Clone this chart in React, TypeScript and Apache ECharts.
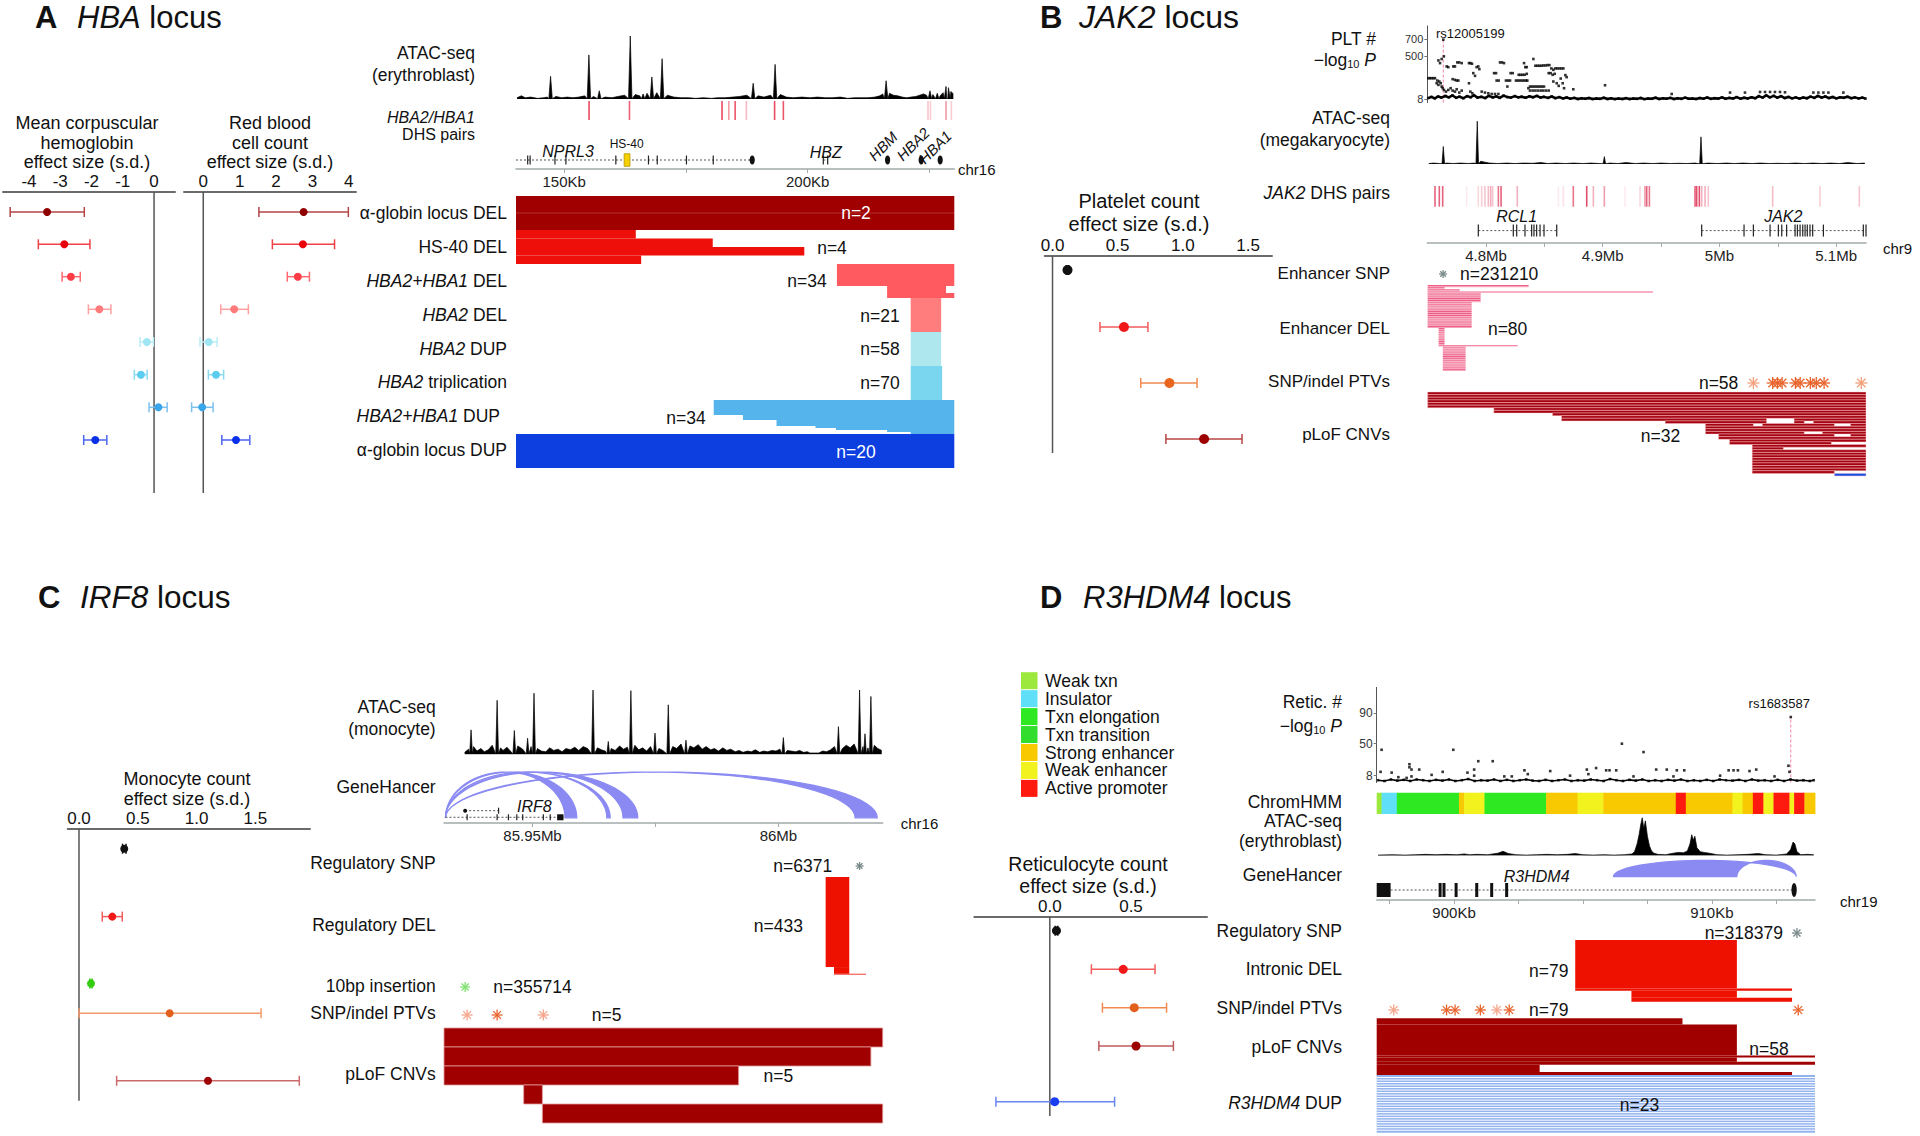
import React, { useEffect, useRef } from "react";
import * as echarts from "echarts";

const FONT = '"Liberation Sans", Arial, Helvetica, sans-serif';

/* ================= Panel A : HBA locus ================= */
const hbaRowLabels = ["α-globin locus DEL", "HS-40 DEL", "{i|HBA2+HBA1} DEL", "{i|HBA2} DEL", "{i|HBA2} DUP", "{i|HBA2} triplication", "{i|HBA2+HBA1} DUP", "α-globin locus DUP"];
const hbaMchEst = [-3.42, -2.87, -2.66, -1.75, -0.23, -0.42, 0.14, -1.88];
const hbaMchLo = [-4.6, -3.7, -2.94, -2.1, -0.45, -0.63, -0.16, -2.25];
const hbaMchHi = [-2.23, -2.05, -2.36, -1.38, -0.02, -0.22, 0.42, -1.51];
const hbaRbcEst = [2.76, 2.74, 2.6, 0.85, 0.15, 0.35, -0.03, 0.9];
const hbaRbcLo = [1.53, 1.9, 2.31, 0.48, -0.09, 0.14, -0.32, 0.51];
const hbaRbcHi = [3.99, 3.61, 2.92, 1.24, 0.38, 0.56, 0.27, 1.28];
const hbaCnvN = [2, 4, 34, 21, 58, 70, 34, 20];
const hbaRange = [140.1, 230.1]; // Kb on chr16
const hbaCnvBlocks = [
  [[140.1, 230.1, 2]],
  [[140.1, 164.7, 1], [140.1, 180.5, 1], [140.1, 199.3, 1], [140.1, 165.8, 1]],
  [[206.0, 230.1, 22], [216.3, 228.4, 7], [216.3, 230.1, 5]],
  [[221.15, 227.4, 21]],
  [[221.15, 227.4, 58]],
  [[221.15, 227.6, 70]],
  [[180.7, 230.1, 15], [186.7, 230.1, 5], [193.6, 230.1, 6], [201.6, 230.1, 2], [205.8, 230.1, 2], [216.3, 230.1, 2], [221.15, 230.1, 2]],
  [[140.1, 230.1, 20]],
];
const hbaAtacPeaks = [[147.2, 36], [155.07, 70], [157.2, 13], [163.56, 100], [166.2, 8], [168.0, 35], [170.1, 64], [188.8, 25], [193.3, 55], [216.1, 29], [225.1, 13], [226.6, 9], [228.4, 20], [228.9, 18]];
const hbaAtacNoise = [[140.3, 2], [141.2, 5], [142, 2], [143.1, 3], [144.5, 1], [145.8, 2], [146.5, 3], [148.3, 4], [149.5, 2], [150.6, 3], [151.8, 2], [153, 3], [154.2, 5], [156, 4], [158.4, 3], [159.8, 2], [161, 4], [162.4, 6], [164.6, 7], [165.5, 5], [167, 9], [169, 10], [171.2, 6], [172.5, 3], [174, 2], [175.5, 2], [177, 1], [178.6, 2], [180.2, 1], [181.5, 2], [183, 2], [184.6, 3], [186, 4], [187.5, 6], [189.8, 5], [191, 3], [192.4, 6], [194.4, 7], [195.6, 3], [197, 2], [198.8, 3], [200.5, 2], [202, 3], [203.6, 2], [205, 2], [206.7, 3], [208.2, 1], [209.6, 2], [211, 2], [212.4, 2], [213.8, 3], [214.8, 5], [215.4, 8], [216.8, 9], [217.6, 6], [218.5, 5], [219.4, 3], [220.3, 2], [221.2, 3], [222.2, 4], [223, 6], [223.8, 8], [224.4, 6], [225.7, 7], [227.2, 5], [227.8, 10], [229.4, 12], [229.9, 8]];
const hbaDhs = [[155.1, 0.9], [163.4, 0.8], [182.4, 0.9], [183.8, 0.5], [185.1, 0.85], [187.4, 0.35], [193.2, 0.9], [195.0, 0.85], [224.7, 0.3], [225.2, 0.25], [228.4, 0.5], [229.5, 0.25]];
// [start, end, kind] kind: 0 intron line, 1 exon tick, 2 oval, 3 HS-40 element
const hbaGenes = [[140.1, 188.6, 0], [142.5, 142.5, 1], [143.0, 143.0, 1], [148.1, 148.1, 1], [150.35, 150.35, 1], [160.6, 160.6, 1], [167.3, 167.3, 1], [169.1, 169.1, 1], [175.1, 175.1, 1], [180.6, 180.6, 1], [188.6, 188.6, 2], [162.3, 163.5, 3], [203.2, 204.1, 0], [203.2, 203.2, 1], [204.1, 204.1, 1], [216.4, 216.4, 2], [223.3, 223.3, 2], [227.2, 227.2, 2]];

/* ================= Panel B : JAK2 locus ================= */
const jak2Range = [4.7497, 5.1256]; // Mb on chr9
const pltRowLabels = ["Enhancer SNP", "Enhancer DEL", "SNP/indel PTVs", "pLoF CNVs"];
const pltEst = [0.115, 0.548, 0.897, 1.163];
const pltLo = [0.105, 0.364, 0.677, 0.87];
const pltHi = [0.125, 0.732, 1.109, 1.454];
const pltLead = [4.7634, 692];
const pltPoints = [[4.7639, 500], [4.762, 470], [4.7592, 454], [4.7606, 423], [4.7506, 250], [4.752, 250], [4.7534, 250], [4.7549, 250], [4.7563, 250], [4.7583, 223], [4.76, 212], [4.7612, 192], [4.7592, 173], [4.7577, 192], [4.762, 154], [4.7629, 135], [4.764, 115], [4.7657, 96], [4.7677, 115], [4.7697, 135], [4.7714, 108], [4.7734, 96], [4.7749, 123], [4.7771, 85], [4.7792, 108], [4.7663, 385], [4.7677, 377], [4.772, 385], [4.7734, 385], [4.7714, 239], [4.7734, 231], [4.7749, 223], [4.7763, 223], [4.7754, 431], [4.7771, 431], [4.7792, 423], [4.7854, 423], [4.7866, 423], [4.788, 416], [4.7891, 308], [4.7906, 277], [4.792, 377], [4.7934, 385], [4.7943, 354], [4.7854, 192], [4.7866, 96], [4.7883, 77], [4.7963, 96], [4.7991, 85], [4.802, 77], [4.8049, 69], [4.8077, 69], [4.8106, 69], [4.8069, 308], [4.8086, 308], [4.8091, 223], [4.8109, 223], [4.812, 431], [4.8137, 431], [4.8154, 423], [4.8171, 223], [4.8189, 223], [4.8206, 223], [4.8183, 154], [4.8211, 308], [4.8229, 308], [4.8257, 223], [4.8274, 223], [4.8291, 223], [4.8309, 223], [4.8326, 223], [4.8343, 223], [4.8354, 223], [4.828, 289], [4.8297, 289], [4.8314, 289], [4.8331, 289], [4.8349, 300], [4.8326, 423], [4.8337, 377], [4.8349, 377], [4.8363, 135], [4.8377, 154], [4.8394, 154], [4.8411, 154], [4.8429, 154], [4.8446, 154], [4.8463, 154], [4.848, 154], [4.8497, 154], [4.8406, 470], [4.8423, 393], [4.844, 393], [4.8457, 393], [4.8474, 393], [4.8491, 396], [4.8509, 396], [4.8526, 400], [4.8543, 400], [4.8537, 308], [4.8554, 308], [4.8571, 289], [4.8589, 300], [4.856, 362], [4.8577, 346], [4.8594, 362], [4.8611, 362], [4.8629, 362], [4.8646, 362], [4.8663, 362], [4.8377, 108], [4.84, 108], [4.8423, 108], [4.8446, 108], [4.8469, 108], [4.8491, 108], [4.8514, 108], [4.8537, 108], [4.8577, 212], [4.8606, 192], [4.8623, 162], [4.864, 246], [4.8657, 192], [4.8669, 135], [4.868, 285], [4.8691, 262], [4.8748, 123], [4.902, 169], [4.9591, 69], [5.0091, 85], [5.0219, 85], [5.0348, 92], [5.0391, 92], [5.0434, 92], [5.0476, 92], [5.0519, 92], [5.0562, 88], [5.0805, 85], [5.0848, 85], [5.0891, 85], [5.0934, 85], [5.1062, 85]];
const pltBaseline = [[4.7505, 22], [4.7532, 35], [4.7561, 18], [4.7589, 40], [4.7618, 28], [4.7652, 46], [4.7681, 30], [4.7713, 52], [4.7744, 25], [4.7772, 38], [4.7806, 20], [4.7838, 44], [4.7869, 31], [4.7897, 55], [4.7928, 27], [4.7961, 36], [4.7993, 22], [4.8024, 48], [4.8057, 29], [4.8088, 41], [4.8117, 24], [4.8151, 50], [4.8183, 33], [4.8212, 27], [4.8247, 45], [4.8276, 30], [4.8305, 38], [4.8339, 26], [4.8371, 42], [4.8402, 31], [4.8436, 47], [4.8468, 28], [4.8497, 36], [4.8531, 24], [4.8563, 40], [4.8594, 21], [4.8628, 33], [4.8659, 18], [4.8691, 29], [4.8722, 15], [4.8756, 24], [4.8787, 12], [4.8819, 20], [4.8851, 14], [4.8882, 22], [4.8914, 11], [4.8946, 18], [4.8977, 13], [4.9009, 25], [4.9041, 12], [4.9072, 19], [4.9103, 10], [4.9136, 16], [4.9168, 12], [4.9199, 21], [4.9231, 11], [4.9263, 17], [4.9294, 13], [4.9326, 23], [4.9357, 10], [4.9389, 18], [4.9421, 14], [4.9452, 26], [4.9484, 12], [4.9516, 19], [4.9547, 15], [4.9579, 24], [4.9611, 11], [4.9642, 20], [4.9674, 13], [4.9706, 27], [4.9737, 14], [4.9769, 18], [4.98, 12], [4.9832, 22], [4.9864, 15], [4.9895, 28], [4.9927, 13], [4.9958, 21], [4.999, 16], [5.0022, 30], [5.0053, 14], [5.0085, 24], [5.0117, 17], [5.0148, 33], [5.018, 15], [5.0212, 26], [5.0243, 18], [5.0275, 31], [5.0307, 20], [5.0338, 45], [5.037, 28], [5.0401, 52], [5.0433, 30], [5.0465, 48], [5.0496, 26], [5.0528, 44], [5.056, 22], [5.0591, 35], [5.0623, 18], [5.0654, 30], [5.0686, 16], [5.0718, 28], [5.0749, 20], [5.0781, 38], [5.0813, 24], [5.0844, 46], [5.0876, 27], [5.0907, 40], [5.0939, 22], [5.0971, 34], [5.1002, 19], [5.1034, 31], [5.1066, 25], [5.1097, 37], [5.1129, 21], [5.1161, 30], [5.1192, 18], [5.1224, 27], [5.1252, 16]];
const jak2AtacPeaks = [[4.7634, 38], [4.7925, 93], [4.9014, 16], [4.9842, 59]];
const jak2AtacNoise = [[4.751, 1], [4.755, 2], [4.76, 1], [4.766, 2], [4.772, 1], [4.778, 2], [4.785, 1], [4.79, 2], [4.7955, 6], [4.799, 4], [4.803, 2], [4.81, 1], [4.818, 2], [4.825, 1], [4.832, 2], [4.84, 1.5], [4.847, 3], [4.853, 1], [4.86, 2], [4.868, 1], [4.875, 2], [4.883, 1], [4.89, 2], [4.897, 1], [4.906, 2], [4.913, 1], [4.92, 3], [4.928, 1], [4.935, 2], [4.943, 1], [4.95, 2], [4.958, 1], [4.965, 1.5], [4.972, 1], [4.979, 2], [4.99, 2], [4.998, 1], [5.006, 2], [5.013, 1], [5.02, 2], [5.028, 1], [5.035, 2], [5.043, 1], [5.05, 1.5], [5.058, 1], [5.065, 2], [5.073, 1], [5.08, 2], [5.088, 1], [5.095, 2], [5.103, 1], [5.11, 3], [5.118, 1], [5.1245, 2]];
const jak2Dhs = [[4.7563, 0.8], [4.76, 0.8], [4.7629, 0.8], [4.7834, 0.1], [4.7934, 0.2], [4.7963, 0.25], [4.7991, 0.3], [4.802, 0.35], [4.804, 0.4], [4.8057, 0.3], [4.8106, 0.7], [4.8129, 0.8], [4.8268, 0.4], [4.862, 0.1], [4.8663, 0.15], [4.8748, 0.7], [4.8863, 0.9], [4.892, 0.4], [4.9014, 0.5], [4.9191, 0.1], [4.932, 0.2], [4.9362, 0.5], [4.9377, 0.8], [4.94, 0.7], [4.9791, 0.8], [4.9805, 0.9], [4.9828, 0.9], [4.9848, 0.4], [4.9877, 0.4], [4.9905, 0.3], [5.0456, 0.35], [5.0862, 0.25], [5.1199, 0.3]];
const jak2Genes = [[4.7934, 4.8606, 0], [4.7934, 4.7934, 1], [4.8234, 4.8234, 1], [4.8263, 4.8263, 1], [4.8334, 4.8334, 1], [4.8391, 4.8391, 1], [4.8411, 4.8411, 1], [4.8434, 4.8434, 1], [4.8463, 4.8463, 1], [4.8497, 4.8497, 1], [4.8606, 4.8606, 1], [4.9848, 5.1256, 0], [4.9848, 4.9848, 1], [5.0211, 5.0211, 1], [5.0291, 5.0291, 1], [5.0434, 5.0434, 1], [5.0505, 5.0505, 1], [5.0534, 5.0534, 1], [5.0576, 5.0576, 1], [5.0648, 5.0648, 1], [5.0668, 5.0668, 1], [5.0691, 5.0691, 1], [5.0714, 5.0714, 1], [5.0734, 5.0734, 1], [5.0753, 5.0753, 1], [5.0776, 5.0776, 1], [5.0799, 5.0799, 1], [5.0891, 5.0891, 1], [5.1233, 5.1233, 1], [5.1256, 5.1256, 1]];
const jak2SnpStar = [[4.7632, 0]];
const jak2EnhDelBlocks = [[4.75, 4.8365, 2], [4.75, 4.7645, 2], [4.75, 4.7774, 2], [4.75, 4.9431, 1], [4.75, 4.7954, 9], [4.75, 4.7877, 24], [4.7594, 4.7645, 16], [4.7594, 4.8272, 1], [4.763, 4.7825, 23]];
const jak2PtvStars = [[5.0291, 0], [5.0456, 1], [5.0497, 1], [5.0537, 1], [5.0651, 1], [5.0692, 1], [5.0779, 1], [5.083, 1], [5.0897, 1], [5.1216, 0]];
const jak2PlofRows = [
  [[[4.75, 5.1256]], 6], [[[4.8067, 5.1256]], 2], [[[4.857, 5.1256]], 1], [[[4.8647, 5.1256]], 1],
  [[[4.8647, 5.0404], [5.064, 5.1256]], 1], [[[4.9536, 5.0404], [5.064, 5.0727], [5.0805, 5.1256]], 1],
  [[[4.988, 5.0291], [5.0368, 5.0985], [5.1123, 5.1256]], 1], [[[4.988, 5.1256]], 2],
  [[[4.988, 5.0727], [5.0882, 5.1256]], 1], [[[4.9993, 5.0985], [5.1123, 5.1256]], 1], [[[4.9993, 5.1256]], 1],
  [[[5.0086, 5.1256]], 1], [[[5.0086, 5.0959]], 1], [[[5.0281, 5.1256]], 1], [[[5.0281, 5.0548]], 1],
  [[[5.0281, 5.1256]], 8], [[[5.0281, 5.0985]], 1],
];
const jak2DupRow = [[5.0985, 5.1256]];

/* ================= Panel C : IRF8 locus ================= */
const irf8Range = [85.932, 86.0212]; // Mb on chr16
const monoRowLabels = ["Regulatory SNP", "Regulatory DEL", "10bp insertion", "SNP/indel PTVs", "pLoF CNVs"];
const monoEst = [0.385, 0.283, 0.102, 0.771, 1.097];
const monoLo = [0.37, 0.198, 0.092, 0.0, 0.32];
const monoHi = [0.4, 0.368, 0.112, 1.548, 1.873];
const irf8AtacPeaks = [[85.9375, 38], [85.9428, 84], [85.9463, 37], [85.949, 25], [85.9503, 95], [85.9623, 100], [85.9654, 20], [85.97, 99], [85.9749, 33], [85.9776, 77], [85.9812, 22], [86.001, 26], [86.0122, 43], [86.0165, 100], [86.0176, 32], [86.0188, 90]];
const irf8AtacNoise = [[85.9362, 3], [85.937, 8], [85.938, 12], [85.9387, 5], [85.9395, 9], [85.9402, 4], [85.941, 7], [85.9418, 14], [85.9435, 10], [85.944, 6], [85.9448, 11], [85.9455, 5], [85.947, 13], [85.948, 8], [85.9497, 12], [85.951, 9], [85.9518, 5], [85.9527, 4], [85.9535, 10], [85.9543, 6], [85.9552, 8], [85.956, 4], [85.9568, 9], [85.9577, 7], [85.9586, 11], [85.9594, 6], [85.9603, 12], [85.9612, 9], [85.9632, 10], [85.964, 7], [85.9648, 5], [85.966, 9], [85.9668, 6], [85.9677, 13], [85.9685, 8], [85.9693, 11], [85.9708, 14], [85.9716, 7], [85.9724, 10], [85.9732, 5], [85.974, 12], [85.9757, 9], [85.9765, 6], [85.9785, 12], [85.9793, 9], [85.9802, 16], [85.982, 13], [85.9828, 10], [85.9837, 15], [85.9845, 8], [85.9853, 12], [85.9862, 7], [85.987, 9], [85.9878, 5], [85.9887, 10], [85.9895, 6], [85.9903, 8], [85.9912, 4], [85.992, 6], [85.9928, 3], [85.9937, 5], [85.9945, 4], [85.9953, 7], [85.9962, 3], [85.997, 5], [85.9978, 4], [85.9987, 6], [85.9995, 5], [86.0003, 8], [86.0018, 6], [86.0026, 5], [86.0035, 4], [86.0043, 6], [86.0051, 3], [86.0059, 4], [86.0064, 2], [86.0082, 2], [86.009, 5], [86.0098, 4], [86.0106, 7], [86.0114, 12], [86.013, 9], [86.0138, 14], [86.0146, 10], [86.0154, 16], [86.0172, 12], [86.0182, 10], [86.0195, 14], [86.0202, 9], [86.021, 6]];
// GeneHancer links: [promoter, enhancer inner edge, enhancer outer edge]
const irf8GeneHancer = [[85.9323, 85.9566, 85.959], [85.9323, 85.9651, 85.9658], [85.9323, 85.9684, 85.9714], [85.9323, 86.0156, 86.0201]];
const irf8TranscriptShort = [[85.9363, 85.9431, 0], [85.9363, 85.9363, 5], [85.9431, 85.9431, 1]];
const irf8TranscriptLong = [[85.9323, 85.9563, 0], [85.9367, 85.9367, 1], [85.9428, 85.9428, 1], [85.9451, 85.9451, 1], [85.9468, 85.9468, 1], [85.948, 85.948, 1], [85.9522, 85.9522, 1], [85.9536, 85.9536, 1], [85.955, 85.9563, 4]];
const irf8SnpStar = [[86.0165, 0]];
const irf8DelBlocks = [[86.0096, 86.0144, 402], [86.0113, 86.0144, 30], [86.0113, 86.0178, 1]];
const irf8InsStar = [[85.9363, 0]];
const irf8PtvStars = [[85.9367, 0], [85.9428, 1], [85.9522, 0]];
const irf8PlofBlocks = [[85.932, 86.0212, 1], [85.932, 86.0188, 1], [85.932, 85.9919, 1], [85.9482, 85.952, 1], [85.952, 86.0212, 1]];

/* ================= Panel D : R3HDM4 locus ================= */
const r3Range = [897.0, 914.0]; // Kb on chr19
const chromStates = ["Weak txn", "Insulator", "Txn elongation", "Txn transition", "Strong enhancer", "Weak enhancer", "Active promoter"];
const chromColors = ["#9de83c", "#5fe0f8", "#2ee822", "#33dd2e", "#f8c800", "#f2f21e", "#ff1a10"];
const chromSegments = [[897.0, 897.19, 0], [897.19, 897.78, 1], [897.78, 900.19, 2], [900.19, 900.39, 4], [900.39, 901.18, 5], [901.18, 903.57, 2], [903.57, 904.79, 4], [904.79, 905.79, 5], [905.79, 908.6, 4], [908.6, 908.99, 6], [908.99, 910.8, 4], [910.8, 911.19, 5], [911.19, 911.59, 4], [911.59, 912.0, 6], [912.0, 912.39, 5], [912.39, 913.01, 6], [913.01, 913.19, 5], [913.19, 913.59, 6], [913.59, 914.0, 4]];
const reticRowLabels = ["Regulatory SNP", "Intronic DEL", "SNP/indel PTVs", "pLoF CNVs", "{i|R3HDM4} DUP"];
const reticEst = [0.041, 0.452, 0.52, 0.531, 0.03];
const reticLo = [0.033, 0.256, 0.324, 0.302, -0.332];
const reticHi = [0.049, 0.648, 0.719, 0.761, 0.399];
const reticLead = [913.06, 85];
const reticPoints = [[897.19, 42], [897.15, 13], [897.58, 12], [897.84, 6], [898.16, 5], [898.27, 23], [898.35, 16], [898.27, 19], [898.35, 7], [898.65, 16], [899.13, 9], [899.56, 13], [899.97, 42], [900.52, 12], [900.78, 16], [900.78, 8], [900.94, 27], [901.5, 27], [901.95, 7], [902.24, 7], [902.73, 15], [902.86, 10], [903.73, 14], [904.5, 8], [905.15, 16], [905.21, 10], [905.51, 18], [905.9, 15], [906.03, 15], [906.29, 15], [906.51, 50], [906.96, 7], [907.35, 39], [907.84, 16], [908.25, 16], [908.51, 7], [908.64, 15], [908.93, 15], [910.32, 8], [910.65, 15], [910.84, 15], [911.01, 15], [911.46, 14], [911.72, 16], [912.43, 7], [912.97, 21], [913.01, 13]];
const reticBaseline = [[897.05, 2], [897.3, 1], [897.55, 3], [897.8, 1.5], [898.05, 2.5], [898.3, 1], [898.55, 3], [898.8, 2], [899.05, 1], [899.3, 2.5], [899.55, 1.5], [899.8, 3], [900.05, 1], [900.3, 2], [900.55, 3.5], [900.8, 1], [901.05, 2], [901.3, 1.5], [901.55, 3], [901.8, 1], [902.05, 2.5], [902.3, 1], [902.55, 2], [902.8, 3], [903.05, 1.5], [903.3, 1], [903.55, 2.5], [903.8, 1], [904.05, 2], [904.3, 3], [904.55, 1], [904.8, 2], [905.05, 1.5], [905.3, 3], [905.55, 2], [905.8, 1], [906.05, 3.5], [906.3, 2], [906.55, 1], [906.8, 2.5], [907.05, 1.5], [907.3, 3], [907.55, 1], [907.8, 2], [908.05, 1], [908.3, 2.5], [908.55, 1.5], [908.8, 3], [909.05, 1], [909.3, 2], [909.55, 1], [909.8, 2.5], [910.05, 1], [910.3, 3], [910.55, 2], [910.8, 1.5], [911.05, 2.5], [911.3, 1], [911.55, 3], [911.8, 1.5], [912.05, 2], [912.3, 1], [912.55, 2.5], [912.8, 1], [913.05, 3], [913.3, 1.5], [913.55, 2], [913.8, 1], [913.95, 2]];
const r3Atac = [[897.05, 1], [897.6, 2], [898.1, 1], [898.5, 2], [898.9, 3], [899.3, 2], [899.7, 3], [900.1, 2], [900.4, 4], [900.6, 2], [900.9, 3], [901.3, 2], [901.7, 6], [901.9, 11], [902.1, 5], [902.4, 2], [902.8, 1], [903.2, 2], [903.6, 3], [904.0, 2], [904.4, 3], [904.7, 5], [905.0, 2], [905.4, 1], [905.8, 2], [906.2, 1], [906.6, 2], [906.9, 4], [907.0, 10], [907.1, 30], [907.18, 55], [907.24, 80], [907.3, 98], [907.36, 70], [907.42, 90], [907.5, 50], [907.58, 25], [907.66, 12], [907.75, 6], [907.9, 3], [908.2, 2], [908.5, 6], [908.7, 8], [908.9, 7], [909.05, 12], [909.15, 30], [909.22, 54], [909.28, 40], [909.34, 50], [909.42, 20], [909.55, 10], [909.7, 8], [909.9, 6], [910.2, 2], [910.6, 1], [911.0, 2], [911.4, 3], [911.8, 5], [912.1, 2], [912.5, 1], [912.9, 4], [913.05, 15], [913.15, 35], [913.22, 30], [913.3, 10], [913.45, 2], [913.7, 3], [913.95, 2]];
const r3GeneHancer = [[913.27, 910.97, 906.18]];
const r3Gene = [[897.54, 913.19, 0], [897.0, 897.54, 4], [899.46, 899.46, 4], [899.61, 899.61, 4], [900.08, 900.08, 4], [900.88, 900.88, 4], [901.46, 901.46, 4], [902.04, 902.04, 4], [913.19, 913.19, 2]];
const r3SnpStar = [[913.3, 0]];
const r3DelBlocks = [[904.7, 910.97, 62], [904.7, 913.11, 3], [906.88, 910.97, 9], [906.88, 913.11, 5]];
const r3PtvStars = [[897.66, 0], [899.71, 1], [900.04, 1], [901.02, 1], [901.66, 0], [902.14, 1], [913.35, 1]];
const r3PlofBlocks = [[897.0, 908.86, 6], [897.0, 910.97, 30], [897.0, 914.0, 2], [897.0, 910.97, 4], [897.0, 914.0, 3], [897.0, 903.32, 7], [897.0, 913.11, 3], [900.23, 903.32, 3]];
const r3DupBlocks = [[897.0, 914.0, 23]];

/* ================= layout (pixels) ================= */
const A_ROW_Y = [20, 52.3, 84.7, 117.3, 150, 182.7, 215.3, 248];
const B_ROW_Y = [14, 71, 127, 183];
const C_ROW_Y = [19.9, 87.8, 154.6, 184.5, 252];
const D_ROW_Y = [14, 52.6, 91, 129.3, 185];

function buildOption() {
  const grid: any[] = [], xAxis: any[] = [], yAxis: any[] = [], series: any[] = [], elements: any[] = [];

  const addGrid = (box: number[], x: any, y: any) => {
    const i = grid.length;
    grid.push({ left: box[0], top: box[1], width: box[2], height: box[3], show: false, containLabel: false });
    xAxis.push({ gridIndex: i, type: "value", show: false, splitLine: { show: false }, ...x, axisLine: { onZero: false, ...(x.axisLine || {}) } });
    yAxis.push({ gridIndex: i, type: "value", show: false, splitLine: { show: false }, ...y, axisLine: { onZero: false, ...(y.axisLine || {}) } });
    return i;
  };
  const on = (gi: number) => ({ xAxisIndex: gi, yAxisIndex: gi, silent: true });

  const forestAxis = (min: number, max: number, labels: number[], fmt: (v: number) => string) => ({
    show: true, min, max, position: "top",
    axisLine: { show: true, onZero: false, lineStyle: { color: "#6b6b6b", width: 2 } },
    axisTick: { show: false },
    axisLabel: { show: true, customValues: labels, formatter: fmt, fontSize: 17, color: "#111", fontFamily: FONT, margin: 2 },
  });
  const genomeAxis = (range: number[], labels: number[], ticks: number[], fmt: (v: number) => string) => ({
    show: true, min: range[0], max: range[1], position: "bottom",
    axisLine: { show: true, onZero: false, lineStyle: { color: "#a3abab", width: 1.5 } },
    axisTick: { show: true, customValues: ticks, length: 4, lineStyle: { color: "#a3abab" } },
    axisLabel: { show: true, customValues: labels, formatter: fmt, fontSize: 15, color: "#222", fontFamily: FONT, margin: 5 },
  });
  const manY = (min: number, max: number, labels: number[], fs: number) => ({
    show: true, min, max, position: "left",
    axisLine: { show: true, onZero: false, lineStyle: { color: "#555", width: 1 } },
    axisTick: { show: true, customValues: labels, length: 3, lineStyle: { color: "#777" } },
    axisLabel: { show: true, customValues: labels, fontSize: fs, color: "#333", fontFamily: FONT, margin: 4 },
  });

  const addForest = (gi: number, H: number, est: number[], lo: number[], hi: number[], rowY: number[], colors: string[], ciColors: string[], r: number) => {
    series.push({ type: "line", ...on(gi), data: [[0, 0], [0, H]], symbol: "none", lineStyle: { color: "#555", width: 1.5 }, z: 1 });
    series.push({
      type: "custom", ...on(gi), z: 3,
      data: est.map((e, i) => [e, lo[i], hi[i], rowY[i], i]),
      encode: { x: [0, 1, 2], y: 3 },
      renderItem: (_p: any, api: any) => {
        const y = api.value(3), i = api.value(4);
        const pe = api.coord([api.value(0), y]), pl = api.coord([api.value(1), y]), ph = api.coord([api.value(2), y]);
        const cap = 5, st = { stroke: ciColors[i], lineWidth: 1.5 };
        return {
          type: "group", children: [
            { type: "line", shape: { x1: pl[0], y1: pl[1], x2: ph[0], y2: ph[1] }, style: st },
            { type: "line", shape: { x1: pl[0], y1: pl[1] - cap, x2: pl[0], y2: pl[1] + cap }, style: st },
            { type: "line", shape: { x1: ph[0], y1: ph[1] - cap, x2: ph[0], y2: ph[1] + cap }, style: st },
            { type: "circle", shape: { cx: pe[0], cy: pe[1], r }, style: { fill: colors[i] } },
          ],
        };
      },
    });
  };

  // items: [start, end, y0, y1, nRows, colorIdx]
  const addCnv = (gi: number, items: any[], colors: string[], opt: any = {}) => {
    series.push({
      type: "custom", ...on(gi), data: items, encode: { x: [0, 1], y: [2, 3] },
      renderItem: (_p: any, api: any) => {
        const a = api.coord([api.value(0), api.value(2)]), b = api.coord([api.value(1), api.value(3)]);
        const n = api.value(4), c = api.value(5);
        const x = Math.min(a[0], b[0]), y = Math.min(a[1], b[1]);
        const w = Math.max(Math.abs(b[0] - a[0]), 1), h = Math.max(Math.abs(b[1] - a[1]), 0.8);
        const ch: any[] = [{ type: "rect", shape: { x, y, width: w, height: h }, style: { fill: colors[c], stroke: opt.stroke || null, lineWidth: opt.strokeW || 0 } }];
        if (opt.sep && n > 1 && h / n >= (opt.minSepH ?? 3)) {
          for (let k = 1; k < n; k++) ch.push({ type: "line", shape: { x1: x, y1: y + (k * h) / n, x2: x + w, y2: y + (k * h) / n }, style: { stroke: opt.sep, lineWidth: opt.sepW || 0.6 } });
        }
        return { type: "group", children: ch };
      },
    });
  };
  const blocksToItems = (blocks: number[][], colorIdx = 0, yBase = 0, scale = 1) => {
    let r = 0;
    return blocks.map(([s, e, n]) => { const it = [s, e, yBase + r * scale, yBase + (r + n) * scale, n, colorIdx]; r += n; return it; });
  };

  const addStars = (gi: number, items: number[][], colors: string[], rad: number) => {
    series.push({
      type: "custom", ...on(gi), data: items, encode: { x: 0, y: 1 },
      renderItem: (_p: any, api: any) => {
        const c = api.coord([api.value(0), 0.5]);
        const col = colors[api.value(1)];
        return {
          type: "group", children: [0, 45, 90, 135].map((d) => {
            const t = (d * Math.PI) / 180;
            return { type: "line", shape: { x1: c[0] - rad * Math.cos(t), y1: c[1] - rad * Math.sin(t), x2: c[0] + rad * Math.cos(t), y2: c[1] + rad * Math.sin(t) }, style: { stroke: col, lineWidth: 1.3 } };
          }),
        };
      },
    });
  };

  const addAtac = (gi: number, peaks: number[][], noise: number[][], hw: number) => {
    const pts: number[][] = noise.map((p) => [p[0], p[1]]);
    for (const [p, h] of peaks) pts.push([p - hw, 0.5], [p, h], [p + hw, 0.5]);
    pts.sort((a, b) => a[0] - b[0]);
    series.push({ type: "line", ...on(gi), data: pts, symbol: "none", lineStyle: { color: "#000", width: 0.7 }, areaStyle: { color: "#000", opacity: 1 } });
  };

  const addDhs = (gi: number, items: number[][], color: string) => {
    series.push({
      type: "custom", ...on(gi), data: items, encode: { x: 0 },
      renderItem: (_p: any, api: any) => {
        const a = api.coord([api.value(0), 0]), b = api.coord([api.value(0), 1]);
        return { type: "rect", shape: { x: a[0] - 0.8, y: b[1], width: 1.6, height: a[1] - b[1] }, style: { fill: color, opacity: api.value(1) } };
      },
    });
  };

  // items: [start, end, kind, level]
  const addGenes = (gi: number, items: number[][], hh: number) => {
    series.push({
      type: "custom", ...on(gi), data: items, encode: { x: [0, 1], y: 3 },
      renderItem: (_p: any, api: any) => {
        const k = api.value(2), lv = api.value(3);
        const a = api.coord([api.value(0), lv]), b = api.coord([api.value(1), lv]);
        if (k === 0) return { type: "line", shape: { x1: a[0], y1: a[1], x2: b[0], y2: b[1] }, style: { stroke: "#555", lineWidth: 1, lineDash: [2, 2] } };
        if (k === 1) return { type: "line", shape: { x1: a[0], y1: a[1] - hh, x2: a[0], y2: a[1] + hh }, style: { stroke: "#222", lineWidth: 1.2 } };
        if (k === 2) return { type: "ellipse", shape: { cx: (a[0] + b[0]) / 2, cy: a[1], rx: 2.6, ry: hh }, style: { fill: "#111" } };
        if (k === 3) return { type: "rect", shape: { x: a[0], y: a[1] - hh * 1.4, width: Math.max(b[0] - a[0], 4), height: hh * 2.8 }, style: { fill: "#f5d000", stroke: "#b89400", lineWidth: 0.8 } };
        if (k === 4) {
          const w0 = b[0] - a[0];
          return { type: "rect", shape: { x: w0 < 3 ? a[0] - 1.5 : a[0], y: a[1] - hh, width: Math.max(w0, 3), height: hh * 2 }, style: { fill: "#111" } };
        }
        return { type: "circle", shape: { cx: a[0], cy: a[1], r: 2 }, style: { fill: "#111" } };
      },
    });
  };

  // items: [promoter, innerEnd, outerEnd]
  const addArcs = (gi: number, items: number[][], base: number, top: number, color: string) => {
    series.push({
      type: "custom", ...on(gi), data: items, encode: { x: [0, 1, 2] },
      renderItem: (_p: any, api: any) => {
        const s = api.value(0), e1 = api.value(1), e2 = api.value(2);
        const pts: any[] = [];
        const N = 40;
        for (let k = 0; k <= N; k++) { const t = (Math.PI * k) / N; pts.push(api.coord([s + ((e2 - s) * (1 - Math.cos(t))) / 2, base + (top - base) * Math.sin(t)])); }
        for (let k = N; k >= 0; k--) { const t = (Math.PI * k) / N; pts.push(api.coord([s + ((e1 - s) * (1 - Math.cos(t))) / 2, base + (top - base) * Math.sin(t)])); }
        return { type: "polygon", shape: { points: pts }, style: { fill: color, stroke: color, lineWidth: 1.2 } };
      },
    });
  };

  const addManhattan = (gi: number, baseline: number[][], points: number[][], lead: number[], yMin: number, bandW: number) => {
    series.push({ type: "line", ...on(gi), data: [[lead[0], yMin], [lead[0], lead[1]]], symbol: "none", lineStyle: { color: "#f27fa0", width: 1, type: [3, 2] }, z: 1 });
    series.push({ type: "line", ...on(gi), data: baseline, symbol: "none", lineStyle: { color: "#000", width: bandW }, z: 2 });
    series.push({ type: "scatter", ...on(gi), data: [...baseline, ...points, lead], symbol: "rect", symbolSize: 2.6, itemStyle: { color: "#000" }, z: 3 });
  };

  /* ---------- Panel A ---------- */
  const gMch = addGrid([3, 192, 172, 301], forestAxis(-4.83, 0.67, [-4, -3, -2, -1, 0], (v) => String(v)), { min: 0, max: 301, inverse: true });
  const gRbc = addGrid([184, 192, 172, 301], forestAxis(-0.53, 4.2, [0, 1, 2, 3, 4], (v) => String(v)), { min: 0, max: 301, inverse: true });
  const aCol = ["#8e0000", "#e8000b", "#ff3b45", "#ff7a7a", "#9fe6f2", "#5ccdee", "#3aa6ea", "#0a30e8"];
  const aCi = ["#b24545", "#f04048", "#ff6a70", "#ffa0a0", "#b8eef6", "#8adaf2", "#7cc0ee", "#4a66ee"];
  addForest(gMch, 301, hbaMchEst, hbaMchLo, hbaMchHi, A_ROW_Y, aCol, aCi, 4);
  addForest(gRbc, 301, hbaRbcEst, hbaRbcLo, hbaRbcHi, A_ROW_Y, aCol, aCi, 4);

  const gAtacA = addGrid([516, 36, 438.3, 63], { min: hbaRange[0], max: hbaRange[1] }, { min: 0, max: 100 });
  addAtac(gAtacA, hbaAtacPeaks, hbaAtacNoise, 0.35);
  const gDhsA = addGrid([516, 101, 438.3, 19], { min: hbaRange[0], max: hbaRange[1] }, { min: 0, max: 1 });
  addDhs(gDhsA, hbaDhs, "#e8374f");
  const gGeneA = addGrid([516, 140, 438.3, 29], genomeAxis(hbaRange, [150, 200], [150, 175, 200, 225], (v) => `${v}Kb`), { min: 0, max: 1 });
  addGenes(gGeneA, hbaGenes.map((f) => [...f, 0.31]), 4.5);

  const gCnvA = addGrid([516, 196, 438.3, 272], { min: hbaRange[0], max: hbaRange[1] }, { min: 0, max: 8, inverse: true });
  const barA = ["#a10000", "#ee0f0a", "#ff5a60", "#ff7d7d", "#aee8ee", "#79d6ee", "#56b4ec", "#0c3ee0"];
  const aItems: any[] = [];
  hbaCnvBlocks.forEach((blocks, g) => {
    const total = blocks.reduce((s, b) => s + b[2], 0);
    aItems.push(...blocksToItems(blocks, g, g, 1 / total));
  });
  addCnv(gCnvA, aItems, barA, { sep: "rgba(255,255,255,0.3)", sepW: 0.6, minSepH: 3, stroke: null });

  /* ---------- Panel B ---------- */
  const gManB = addGrid([1427.3, 25.9, 438.7, 76.7], { min: jak2Range[0], max: jak2Range[1] }, manY(-30, 850, [8, 500, 700], 11));
  addManhattan(gManB, pltBaseline, pltPoints, pltLead, -30, 2.5);
  const gAtacB = addGrid([1427.3, 118, 438.7, 46], { min: jak2Range[0], max: jak2Range[1] }, { min: 0, max: 100 });
  addAtac(gAtacB, jak2AtacPeaks, jak2AtacNoise, 0.0011);
  const gDhsB = addGrid([1427.3, 186, 438.7, 20.7], { min: jak2Range[0], max: jak2Range[1] }, { min: 0, max: 1 });
  addDhs(gDhsB, jak2Dhs, "#e03a5c");
  const gGeneB = addGrid([1427.3, 212, 438.7, 31], genomeAxis(jak2Range, [4.8, 4.9, 5.0, 5.1], [4.8, 4.85, 4.9, 4.95, 5.0, 5.05, 5.1], (v) => `${+v.toFixed(2)}Mb`), { min: 0, max: 1 });
  addGenes(gGeneB, jak2Genes.map((f) => [...f, 0.4]), 6);

  const gForB = addGrid([1044.7, 256, 227.3, 197], forestAxis(-0.06, 1.684, [0, 0.5, 1.0, 1.5], (v) => v.toFixed(1)), { min: 0, max: 197, inverse: true });
  addForest(gForB, 197, pltEst, pltLo, pltHi, B_ROW_Y, ["#111", "#f01818", "#e8661e", "#9c0000"], ["#111", "#f25b5b", "#f08a50", "#b84444"], 5);

  const gSnpB = addGrid([1427.3, 269, 438.7, 10], { min: jak2Range[0], max: jak2Range[1] }, { min: 0, max: 1 });
  addStars(gSnpB, jak2SnpStar, ["#7a8a8a"], 4);
  const gEnhB = addGrid([1427.3, 285, 438.7, 86], { min: jak2Range[0], max: jak2Range[1] }, { min: 0, max: 80, inverse: true });
  const enhItems: any[] = [];
  {
    let r = 0;
    for (const [s, e, n] of jak2EnhDelBlocks) for (let k = 0; k < n; k++) { enhItems.push([s, e, r, r + 1, 1, r % 2]); r++; }
  }
  addCnv(gEnhB, enhItems, ["#ee6088", "#f7a4ba"]);
  const gPtvB = addGrid([1427.3, 378, 438.7, 10], { min: jak2Range[0], max: jak2Range[1] }, { min: 0, max: 1 });
  addStars(gPtvB, jak2PtvStars, ["#f4a07a", "#e8642c"], 6);
  const gPlofB = addGrid([1427.3, 392, 438.7, 84], { min: jak2Range[0], max: jak2Range[1] }, { min: 0, max: 32, inverse: true });
  const plofBItems: any[] = [];
  {
    let r = 0;
    for (const [segs, n] of jak2PlofRows as any[]) for (let k = 0; k < n; k++) { for (const [s, e] of segs) plofBItems.push([s, e, r, r + 1, 1, 0]); r++; }
    for (const [s, e] of jak2DupRow) plofBItems.push([s, e, r, r + 1, 1, 1]);
  }
  addCnv(gPlofB, plofBItems, ["#a30010", "#1f4fe0"], { stroke: "rgba(255,200,200,0.9)", strokeW: 0.5 });

  /* ---------- Panel C ---------- */
  const gForC = addGrid([67.7, 828.8, 242.3, 271.9], forestAxis(-0.096, 1.964, [0, 0.5, 1.0, 1.5], (v) => v.toFixed(1)), { min: 0, max: 271.9, inverse: true });
  addForest(gForC, 271.9, monoEst, monoLo, monoHi, C_ROW_Y, ["#111", "#f01818", "#33cc11", "#e0601c", "#9c0000"], ["#111", "#f25b5b", "#33cc11", "#f29a6a", "#cc6a6a"], 4);
  const gAtacC = addGrid([444, 690, 438.7, 64.3], { min: irf8Range[0], max: irf8Range[1] }, { min: 0, max: 100 });
  addAtac(gAtacC, irf8AtacPeaks, irf8AtacNoise, 0.00028);
  const gGhC = addGrid([444, 771, 438.7, 52], genomeAxis(irf8Range, [85.95, 86], [85.95, 85.975, 86], (v) => `${+v.toFixed(2)}Mb`), { min: 0, max: 1 });
  addArcs(gGhC, irf8GeneHancer, 0.1, 0.98, "#8a8af2");
  addGenes(gGhC, [...irf8TranscriptShort.map((f) => [...f, 0.237]), ...irf8TranscriptLong.map((f) => [...f, 0.11])], 3);
  const gSnpC = addGrid([444, 861, 438.7, 10], { min: irf8Range[0], max: irf8Range[1] }, { min: 0, max: 1 });
  addStars(gSnpC, irf8SnpStar, ["#7a8a8a"], 4);
  const gDelC = addGrid([444, 877, 438.7, 97], { min: irf8Range[0], max: irf8Range[1] }, { min: 0, max: 433, inverse: true });
  addCnv(gDelC, blocksToItems(irf8DelBlocks), ["#ee1100"]);
  const gInsC = addGrid([444, 982, 438.7, 10], { min: irf8Range[0], max: irf8Range[1] }, { min: 0, max: 1 });
  addStars(gInsC, irf8InsStar, ["#7fe070"], 5);
  const gPtvC = addGrid([444, 1010, 438.7, 10], { min: irf8Range[0], max: irf8Range[1] }, { min: 0, max: 1 });
  addStars(gPtvC, irf8PtvStars, ["#f5a58a", "#e8642c"], 5.5);
  const gPlofC = addGrid([444, 1028, 438.7, 95], { min: irf8Range[0], max: irf8Range[1] }, { min: 0, max: 5, inverse: true });
  addCnv(gPlofC, blocksToItems(irf8PlofBlocks), ["#a00000"], { stroke: "#e09a9a", strokeW: 0.8 });

  /* ---------- Panel D ---------- */
  const gManD = addGrid([1376.7, 687.4, 438.3, 95.1], { min: r3Range[0], max: r3Range[1] }, manY(-1, 124, [8, 50, 90], 12));
  addManhattan(gManD, reticBaseline, reticPoints, reticLead, -1, 1.6);
  const gChromD = addGrid([1376.7, 792.7, 438.3, 21.3], { min: r3Range[0], max: r3Range[1] }, { min: 0, max: 1 });
  series.push({
    type: "custom", ...on(gChromD), data: chromSegments, encode: { x: [0, 1] },
    renderItem: (_p: any, api: any) => {
      const a = api.coord([api.value(0), 0]), b = api.coord([api.value(1), 1]);
      return { type: "rect", shape: { x: a[0], y: b[1], width: b[0] - a[0] + 0.4, height: a[1] - b[1] }, style: { fill: chromColors[api.value(2)] } };
    },
  });
  const gAtacD = addGrid([1376.7, 817, 438.3, 38.5], { min: r3Range[0], max: r3Range[1] }, { min: 0, max: 100 });
  addAtac(gAtacD, [], r3Atac, 0);
  const gGhD = addGrid([1376.7, 860, 438.3, 40], genomeAxis(r3Range, [900, 910], [897.5, 900, 902.5, 905, 907.5, 910, 912.5], (v) => `${v}Kb`), { min: 0, max: 1 });
  addArcs(gGhD, r3GeneHancer, 0.583, 0.99, "#8a8af2");
  addGenes(gGhD, r3Gene.map((f) => [...f, 0.25]), 7);
  const gForD = addGrid([974.3, 916.7, 232.7, 199.3], forestAxis(-0.465, 0.968, [0, 0.5], (v) => v.toFixed(1)), { min: 0, max: 199.3, inverse: true });
  addForest(gForD, 199.3, reticEst, reticLo, reticHi, D_ROW_Y, ["#111", "#f01818", "#e0601c", "#9c0000", "#1a3ef0"], ["#111", "#f25b5b", "#f08a50", "#c05a5a", "#6a86f0"], 4.5);
  const gSnpD = addGrid([1376.7, 928, 438.3, 10], { min: r3Range[0], max: r3Range[1] }, { min: 0, max: 1 });
  addStars(gSnpD, r3SnpStar, ["#7a8a8a"], 5);
  const gDelD = addGrid([1376.7, 940, 438.3, 61.7], { min: r3Range[0], max: r3Range[1] }, { min: 0, max: 79, inverse: true });
  addCnv(gDelD, blocksToItems(r3DelBlocks), ["#ee1100"]);
  const gPtvD = addGrid([1376.7, 1005, 438.3, 10], { min: r3Range[0], max: r3Range[1] }, { min: 0, max: 1 });
  addStars(gPtvD, r3PtvStars, ["#f5a58a", "#e8642c"], 5.5);
  const gPlofD = addGrid([1376.7, 1018.3, 438.3, 60], { min: r3Range[0], max: r3Range[1] }, { min: 0, max: 58, inverse: true });
  addCnv(gPlofD, blocksToItems(r3PlofBlocks), ["#a00000"]);
  const gDupD = addGrid([1376.7, 1075, 438.3, 57.7], { min: r3Range[0], max: r3Range[1] }, { min: 0, max: 23, inverse: true });
  addCnv(gDupD, blocksToItems(r3DupBlocks), ["#93b3ee"], { sep: "#ffffff", sepW: 1, minSepH: 1.5 });

  /* ---------- texts ---------- */
  const txt = (x: number, y: number, text: string, o: any = {}) => {
    const fs = o.size ?? 17.5;
    const base = { fontSize: fs, fontFamily: FONT, fill: o.color ?? "#111" };
    const al = o.align ?? "left";
    return {
      type: "text", x, y, silent: true, z: 100, rotation: o.rot ?? 0,
      style: {
        text, ...base, fontWeight: o.bold ? "bold" : "normal", fontStyle: o.italic ? "italic" : "normal",
        align: al, textAlign: al, verticalAlign: "middle", textVerticalAlign: "middle",
        rich: { i: { ...base, fontStyle: "italic" }, s: { ...base, fontSize: Math.round(fs * 0.65), verticalAlign: "bottom" } },
      },
    };
  };
  const T = (arr: any[]) => arr.forEach((a) => elements.push(txt(a[0], a[1], a[2], a[3] || {})));

  // Panel titles
  T([
    [35, 17, "A", { size: 31, bold: true }], [77, 17, "{i|HBA} locus", { size: 31 }],
    [1040, 17, "B", { size: 31, bold: true }], [1079, 17, "{i|JAK2} locus", { size: 32 }],
    [38, 597, "C", { size: 31, bold: true }], [80, 597, "{i|IRF8} locus", { size: 31.5 }],
    [1040, 597, "D", { size: 31, bold: true }], [1083, 597, "{i|R3HDM4} locus", { size: 31 }],
  ]);
  // Panel A
  T([
    [87, 123, "Mean corpuscular", { align: "center", size: 18 }], [87, 142.5, "hemoglobin", { align: "center", size: 18 }], [87, 162, "effect size (s.d.)", { align: "center", size: 18 }],
    [270, 123, "Red blood", { align: "center", size: 18 }], [270, 142.5, "cell count", { align: "center", size: 18 }], [270, 162, "effect size (s.d.)", { align: "center", size: 18 }],
    [475, 53, "ATAC-seq", { align: "right" }], [475, 75, "(erythroblast)", { align: "right" }],
    [475, 117, "{i|HBA2/HBA1}", { align: "right", size: 16 }], [475, 134, "DHS pairs", { align: "right", size: 16 }],
    [568, 151.7, "{i|NPRL3}", { align: "center", size: 16 }], [626.7, 144, "HS-40", { align: "center", size: 12 }],
    [825.7, 152, "{i|HBZ}", { align: "center", size: 16 }],
    [883, 146, "{i|HBM}", { align: "center", size: 15, rot: Math.PI / 4 }],
    [913, 144, "{i|HBA2}", { align: "center", size: 15, rot: Math.PI / 4 }],
    [935, 147, "{i|HBA1}", { align: "center", size: 15, rot: Math.PI / 4 }],
    [958, 169, "chr16", { size: 15 }],
  ]);
  const aRowY = [213, 247, 281, 315, 349, 382, 416, 450];
  const aRowRight = [507, 507, 507, 507, 507, 507, 500, 507];
  hbaRowLabels.forEach((l, i) => elements.push(txt(aRowRight[i], aRowY[i], l, { align: "right" })));
  const aNPos = [[856, 213], [832, 248], [807, 281], [880, 316], [880, 349], [880, 383], [686, 418], [856, 452]];
  hbaCnvN.forEach((n, i) => elements.push(txt(aNPos[i][0], aNPos[i][1], `n=${n}`, { align: "center", color: i === 0 || i === 7 ? "#fff" : "#111" })));
  // Panel B
  T([
    [1376, 39, "PLT #", { align: "right" }], [1376, 60, "−log{s|10} {i|P}", { align: "right" }],
    [1436, 33, "rs12005199", { size: 13 }],
    [1390, 118, "ATAC-seq", { align: "right" }], [1390, 140, "(megakaryocyte)", { align: "right" }],
    [1390, 193, "{i|JAK2} DHS pairs", { align: "right" }],
    [1516.7, 216, "{i|RCL1}", { align: "center", size: 16 }], [1783.3, 216, "{i|JAK2}", { align: "center", size: 16 }],
    [1883, 248, "chr9", { size: 15 }],
    [1139, 201, "Platelet count", { align: "center", size: 20 }], [1139, 224, "effect size (s.d.)", { align: "center", size: 20 }],
    [1460, 274, "n=231210"], [1507.6, 329, "n=80", { align: "center" }], [1718.6, 383, "n=58", { align: "center" }], [1660.5, 436, "n=32", { align: "center" }],
  ]);
  const bRowY = [273, 328, 381, 434];
  pltRowLabels.forEach((l, i) => elements.push(txt(1390, bRowY[i], l, { align: "right", size: 17 })));
  // Panel C
  T([
    [187, 779, "Monocyte count", { align: "center", size: 18 }], [187, 798.5, "effect size (s.d.)", { align: "center", size: 18 }],
    [435.7, 707, "ATAC-seq", { align: "right" }], [435.7, 729, "(monocyte)", { align: "right" }], [435.7, 786.6, "GeneHancer", { align: "right" }],
    [534.3, 806.7, "{i|IRF8}", { align: "center", size: 16 }],
    [900.7, 823, "chr16", { size: 15 }],
    [802.7, 866, "n=6371", { align: "center" }], [778.3, 926, "n=433", { align: "center" }], [493.3, 987, "n=355714"], [591.7, 1015, "n=5"], [778.3, 1076, "n=5", { align: "center" }],
  ]);
  const cRowY = [863, 924.5, 986, 1013, 1074.3];
  monoRowLabels.forEach((l, i) => elements.push(txt(435.7, cRowY[i], l, { align: "right" })));
  // Panel D
  chromStates.forEach((s, i) => {
    const cy = 680.7 + i * 17.95;
    elements.push({ type: "rect", silent: true, z: 100, shape: { x: 1021, y: cy - 8.5, width: 16.5, height: 17 }, style: { fill: chromColors[i] } });
    elements.push(txt(1045, cy, s));
  });
  T([
    [1342, 702, "Retic. #", { align: "right" }], [1342, 726, "−log{s|10} {i|P}", { align: "right" }],
    [1779.3, 703.3, "rs1683587", { align: "center", size: 13 }],
    [1342, 801.7, "ChromHMM", { align: "right" }], [1342, 820.5, "ATAC-seq", { align: "right" }], [1342, 840.7, "(erythroblast)", { align: "right" }],
    [1342, 875, "GeneHancer", { align: "right" }],
    [1536.7, 876.7, "{i|R3HDM4}", { align: "center", size: 16 }],
    [1840, 901, "chr19", { size: 15 }],
    [1088, 864, "Reticulocyte count", { align: "center", size: 19.5 }], [1088, 886, "effect size (s.d.)", { align: "center", size: 19.5 }],
    [1783, 933, "n=318379", { align: "right" }], [1548.7, 971, "n=79", { align: "center" }], [1548.7, 1010, "n=79", { align: "center" }],
    [1769, 1049, "n=58", { align: "center" }], [1639.4, 1105, "n=23", { align: "center" }],
  ]);
  const dRowY = [931, 969.3, 1008.3, 1046.7, 1103.3];
  reticRowLabels.forEach((l, i) => elements.push(txt(1342, dRowY[i], l, { align: "right" })));

  return {
    animation: false,
    backgroundColor: "#ffffff",
    textStyle: { fontFamily: FONT },
    grid, xAxis, yAxis, series,
    graphic: { elements },
  };
}

export default function App() {
  const ref = useRef<HTMLDivElement>(null);
  useEffect(() => {
    const chart = echarts.init(ref.current as HTMLDivElement, null, { renderer: "svg", width: 1920, height: 1136 });
    chart.setOption(buildOption() as any);
    return () => chart.dispose();
  }, []);
  return <div ref={ref} style={{ position: "fixed", left: 0, top: 0, width: 1920, height: 1136, background: "#fff" }} />;
}
